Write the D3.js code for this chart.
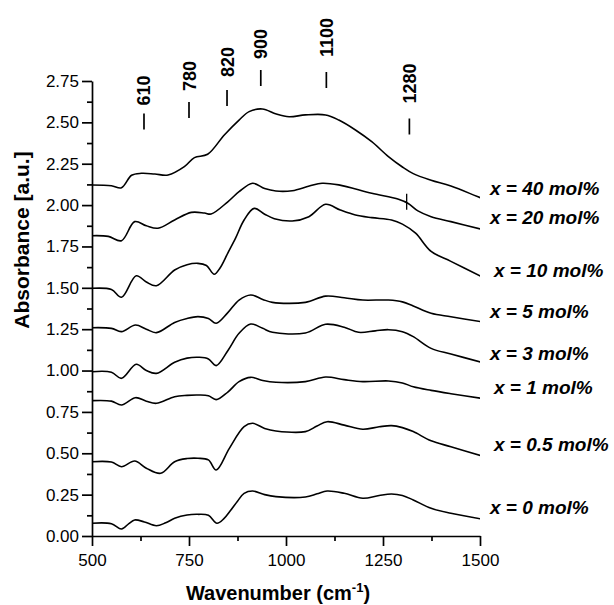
<!DOCTYPE html>
<html><head><meta charset="utf-8">
<script src="https://cdn.jsdelivr.net/npm/d3@7"></script>
<style>
body{margin:0;background:#fff;}
svg{display:block;font-family:"Liberation Sans",Arial,sans-serif;}
</style></head>
<body><svg id="c" width="614" height="605"></svg>
<script>
// ---- data (wavenumber cm-1, absorbance a.u.) ----
const s0 = [[500,0.077],[550,0.074],[576,0.042],[595,0.075],[610,0.097],[635,0.085],[666,0.062],[690,0.08],[713,0.107],[745,0.127],[773,0.131],[800,0.125],[822,0.077],[840,0.105],[858,0.157],[875,0.21],[892,0.258],[914,0.272],[945,0.25],[974,0.238],[1050,0.236],[1080,0.255],[1106,0.272],[1150,0.258],[1198,0.228],[1240,0.245],[1272,0.254],[1300,0.245],[1328,0.218],[1374,0.167],[1425,0.137],[1504,0.103]];
const s05 = [[500,0.449],[550,0.447],[576,0.419],[610,0.453],[640,0.41],[677,0.379],[713,0.449],[745,0.468],[773,0.47],[800,0.46],[820,0.399],[854,0.53],[892,0.661],[914,0.681],[945,0.65],[974,0.635],[1050,0.631],[1080,0.665],[1106,0.691],[1150,0.67],[1198,0.645],[1240,0.66],[1272,0.667],[1300,0.655],[1328,0.631],[1374,0.575],[1425,0.54],[1504,0.484]];
const s1 = [[500,0.818],[550,0.815],[576,0.792],[612,0.836],[640,0.815],[666,0.802],[713,0.842],[745,0.85],[773,0.852],[800,0.848],[820,0.824],[850,0.87],[879,0.933],[909,0.959],[940,0.94],[974,0.929],[1050,0.933],[1102,0.961],[1150,0.945],[1198,0.933],[1264,0.937],[1300,0.925],[1328,0.902],[1374,0.88],[1425,0.86],[1504,0.832]];
const s3 = [[500,0.993],[550,0.99],[576,0.953],[614,1.038],[640,1.0],[666,0.983],[713,1.05],[745,1.075],[777,1.08],[800,1.07],[820,1.03],[850,1.12],[879,1.225],[909,1.281],[940,1.255],[965,1.231],[1050,1.227],[1102,1.28],[1150,1.262],[1187,1.231],[1230,1.24],[1264,1.247],[1300,1.235],[1328,1.205],[1374,1.134],[1425,1.1],[1504,1.05]];
const s5 = [[500,1.259],[550,1.255],[576,1.235],[612,1.275],[640,1.25],[666,1.229],[713,1.291],[745,1.315],[773,1.326],[800,1.315],[820,1.286],[850,1.35],[879,1.426],[909,1.457],[940,1.43],[965,1.412],[1050,1.412],[1102,1.45],[1150,1.44],[1198,1.426],[1264,1.426],[1300,1.415],[1328,1.39],[1374,1.346],[1425,1.325],[1504,1.295]];
const s10 = [[500,1.497],[550,1.49],[576,1.443],[614,1.573],[640,1.535],[666,1.513],[713,1.608],[745,1.64],[773,1.648],[795,1.635],[815,1.582],[830,1.62],[850,1.71],[870,1.8],[892,1.91],[918,1.98],[945,1.945],[970,1.918],[1016,1.904],[1059,1.93],[1102,2.005],[1140,1.97],[1179,1.94],[1221,1.924],[1272,1.91],[1300,1.885],[1334,1.83],[1374,1.72],[1425,1.66],[1504,1.567]];
const s20 = [[500,1.815],[542,1.811],[576,1.785],[610,1.90],[640,1.875],[670,1.86],[713,1.91],[756,1.956],[790,1.952],[807,1.946],[850,2.02],[879,2.081],[914,2.132],[945,2.1],[974,2.085],[1016,2.087],[1060,2.115],[1093,2.132],[1136,2.122],[1221,2.071],[1290,2.035],[1315,2.01],[1340,1.965],[1374,1.93],[1425,1.9],[1504,1.854]];
const s40 = [[500,2.121],[550,2.117],[576,2.105],[602,2.18],[627,2.192],[662,2.188],[696,2.182],[738,2.232],[764,2.287],[798,2.307],[841,2.424],[879,2.514],[905,2.565],[939,2.581],[975,2.55],[1008,2.534],[1050,2.545],[1102,2.545],[1136,2.514],[1179,2.454],[1221,2.383],[1264,2.293],[1300,2.23],[1328,2.19],[1374,2.15],[1425,2.115],[1504,2.041]];

const seriesData = [s40, s20, s10, s5, s3, s1, s05, s0];
const seriesLabels = ["x = 40 mol%","x = 20 mol%","x = 10 mol%","x = 5 mol%","x = 3 mol%","x = 1 mol%","x = 0.5 mol%","x = 0 mol%"];
const labelValues = [2.10, 1.93, 1.608, 1.356, 1.104, 0.899, 0.556, 0.177];

const xTicks = [500, 750, 1000, 1250, 1500];
const xMinor = [625, 875, 1125, 1375];
const yTicks = [0, 0.25, 0.5, 0.75, 1.0, 1.25, 1.5, 1.75, 2.0, 2.25, 2.5, 2.75];
const yMinor = [0.125, 0.375, 0.625, 0.875, 1.125, 1.375, 1.625, 1.875, 2.125, 2.375, 2.625];

const bandLabels = ["610", "780", "820", "900", "1100", "1280"];
const bandWn = [634, 750, 848, 935, 1104, 1318];
const bandAbs = [2.505, 2.575, 2.647, 2.768, 2.756, 2.475];
const extraMark = [1311, 2.02];

// ---- drawing ----
const svg = d3.select("#c");
svg.append("rect").attr("width",614).attr("height",605).attr("fill","#fff");
const x = d3.scaleLinear().domain([500,1500]).range([92,480]);
const y = d3.scaleLinear().domain([0,2.75]).range([536,81]);

const line = d3.line().x(d=>x(d[0])).y(d=>y(d[1])).curve(d3.curveCatmullRom.alpha(0.5));
svg.append("clipPath").attr("id","cp").append("rect")
  .attr("x",x(500)).attr("y",0).attr("width",x(1500)-x(500)).attr("height",605);
svg.append("g").attr("clip-path","url(#cp)").selectAll("path").data(seriesData).join("path")
  .attr("d",line).attr("fill","none").attr("stroke","#000").attr("stroke-width",1.6)
  .attr("stroke-linejoin","round");

// axes
svg.append("g").attr("transform",`translate(0,${y(0)})`)
  .call(d3.axisBottom(x).tickValues(xTicks).tickSize(10).tickSizeOuter(0).tickPadding(8).tickFormat(d3.format("d")));
svg.append("g").attr("transform",`translate(0,${y(0)})`)
  .call(d3.axisBottom(x).tickValues(xMinor).tickSize(5).tickSizeOuter(0).tickFormat(""))
  .select(".domain").remove();
svg.append("g").attr("transform",`translate(${x(500)},0)`)
  .call(d3.axisLeft(y).tickValues(yTicks).tickSize(10).tickSizeOuter(0).tickPadding(3).tickFormat(d3.format(".2f")));
svg.append("g").attr("transform",`translate(${x(500)},0)`)
  .call(d3.axisLeft(y).tickValues(yMinor).tickSize(5).tickSizeOuter(0).tickFormat(""))
  .select(".domain").remove();
svg.selectAll(".domain, .tick line").attr("stroke","#000").attr("stroke-width",1.7);
svg.selectAll(".tick text").attr("fill","#000").attr("font-size",17).attr("font-family","Liberation Sans, Arial, sans-serif");

// axis titles
svg.append("text").attr("x",278).attr("y",600).attr("text-anchor","middle")
  .attr("font-size",20).attr("font-weight","bold")
  .html('Wavenumber (cm<tspan font-size="13" dy="-8">-1</tspan><tspan dy="8">)</tspan>');
svg.append("text").attr("transform","translate(29,240) rotate(-90)").attr("text-anchor","middle")
  .attr("font-size",21).attr("font-weight","bold").text("Absorbance [a.u.]");

// series labels
const labelDx = [0, 0, 4, 0, 0, 4, 4, 0];
svg.selectAll("text.lab").data(seriesLabels).join("text").attr("class","lab")
  .attr("x",(d,i)=>x(1500)+10+labelDx[i]).attr("y",(d,i)=>y(labelValues[i])).attr("dy","0.36em")
  .attr("font-size",19).attr("font-weight","bold").attr("font-style","italic").text(d=>d);

// band markers
const textGap = [8, 11, 13, 11, 15, 15];
const bands = svg.selectAll("g.band").data(bandLabels).join("g").attr("class","band");
bands.append("line").attr("x1",(d,i)=>x(bandWn[i])).attr("x2",(d,i)=>x(bandWn[i]))
  .attr("y1",(d,i)=>y(bandAbs[i])-8).attr("y2",(d,i)=>y(bandAbs[i])+8)
  .attr("stroke","#000").attr("stroke-width",1.7);
bands.append("text").attr("transform",(d,i)=>`translate(${x(bandWn[i])+6.5},${y(bandAbs[i])-8-textGap[i]}) rotate(-90)`)
  .attr("font-size",18).attr("font-weight","bold").text(d=>d);
svg.append("line").attr("x1",x(extraMark[0])).attr("x2",x(extraMark[0]))
  .attr("y1",y(extraMark[1])-8).attr("y2",y(extraMark[1])+8).attr("stroke","#000").attr("stroke-width",1.3);
</script></body></html>
